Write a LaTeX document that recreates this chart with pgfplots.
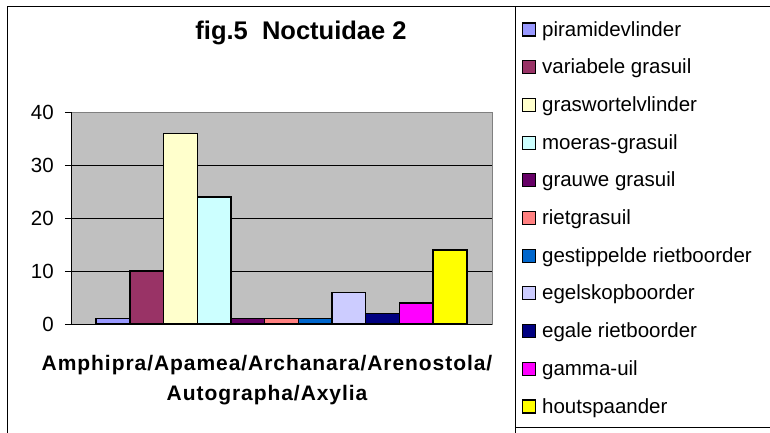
\documentclass[border=0pt]{standalone}
\usepackage{fontspec}
\setmainfont{Liberation Sans}
\usepackage{pgfplots}
\pgfplotsset{compat=1.18}
\definecolor{plotgray}{HTML}{C0C0C0}
\definecolor{bordergray}{HTML}{808080}
\definecolor{c1}{HTML}{9999FF}
\definecolor{c2}{HTML}{993366}
\definecolor{c3}{HTML}{FFFFCC}
\definecolor{c4}{HTML}{CCFFFF}
\definecolor{c5}{HTML}{660066}
\definecolor{c6}{HTML}{FF8080}
\definecolor{c7}{HTML}{0066CC}
\definecolor{c8}{HTML}{CCCCFF}
\definecolor{c9}{HTML}{000080}
\definecolor{c10}{HTML}{FF00FF}
\definecolor{c11}{HTML}{FFFF00}
\begin{document}
\begin{tikzpicture}[x=1pt,y=1pt]
\useasboundingbox (0,0) rectangle (770,432);
\clip (0,0) rectangle (770,432);
\draw[black, line width=1pt] (7,-10) rectangle (515,425);
\draw[black, line width=1pt] (515,5) rectangle (790,425);
\begin{axis}[
  at={(71pt,108pt)}, anchor=south west,
  scale only axis, width=421pt, height=212pt,
  xmin=-1, xmax=1, ymin=0, ymax=40,
  ybar=0pt, bar width=33.7pt,
  xtick=\empty, ytick={0,10,20,30,40},
  extra y ticks={10,20,30}, extra y tick labels={},
  extra y tick style={ymajorgrids=true, major tick length=0pt},
  grid style={black, line width=0.8pt},
  axis background/.style={fill=plotgray, draw=bordergray, line width=1pt},
  axis lines*=left,
  axis line style={black, line width=0.9pt, -},
  ytick align=outside, major tick length=6pt,
  tick style={black, line width=0.9pt},
  /pgf/number format/assume math mode=true,
  yticklabel style={font=\fontsize{20.5}{20.5}\selectfont, inner sep=0pt, xshift=-11pt},
  xlabel={\addfontfeatures{LetterSpace=4.5}Amphipra/Apamea/Archanara/Arenostola/\\\addfontfeatures{LetterSpace=4.5}Autographa/Axylia},
  xlabel style={font=\bfseries\fontsize{21}{30}\selectfont, align=center, inner sep=0pt,
    at={(axis description cs:0.4656,-0.146)}, anchor=north},
  legend image code/.code={\draw[#1, line width=1.1pt] (0pt,0pt) rectangle (13pt,13pt);},
  legend style={at={(axis description cs:1.07126,1.42925)}, anchor=north west,
    draw=none, fill=none, inner sep=0pt, outer sep=0pt,
    font=\fontsize{20.5}{24}\selectfont,
    nodes={inner sep=0pt, text height=15pt, text depth=4.5pt, anchor=base west},
    row sep=18.2pt, column sep=6pt},
  every axis plot/.append style={draw=black, line width=1.4pt},
]
\addplot[fill=c1] coordinates {(0,1)};
\addlegendentry{piramidevlinder}
\addplot[fill=c2] coordinates {(0,10)};
\addlegendentry{variabele grasuil}
\addplot[fill=c3] coordinates {(0,36)};
\addlegendentry{graswortelvlinder}
\addplot[fill=c4] coordinates {(0,24)};
\addlegendentry{moeras-grasuil}
\addplot[fill=c5] coordinates {(0,1)};
\addlegendentry{grauwe grasuil}
\addplot[fill=c6] coordinates {(0,1)};
\addlegendentry{rietgrasuil}
\addplot[fill=c7] coordinates {(0,1)};
\addlegendentry{gestippelde rietboorder}
\addplot[fill=c8] coordinates {(0,6)};
\addlegendentry{egelskopboorder}
\addplot[fill=c9] coordinates {(0,2)};
\addlegendentry{egale rietboorder}
\addplot[fill=c10] coordinates {(0,4)};
\addlegendentry{gamma-uil}
\addplot[fill=c11] coordinates {(0,14)};
\addlegendentry{houtspaander}
\end{axis}
\node[font=\bfseries\fontsize{25.5}{30}\selectfont, inner sep=0pt] at (301,399) {fig.5\ \ Noctuidae 2};
\end{tikzpicture}
\end{document}
